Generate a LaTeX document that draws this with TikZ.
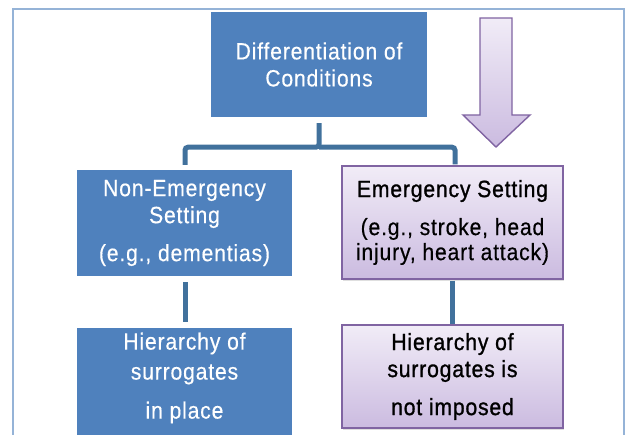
\documentclass[tikz,border=0pt]{standalone}
\usepackage{fontspec}
\setmainfont{Liberation Sans}[FakeStretch=0.9, LetterSpace=3.5, FakeBold=0.4]
\newfontfamily\headfont{Liberation Sans}[FakeStretch=0.9, LetterSpace=3.5, FakeBold=1.1]
\usetikzlibrary{shadows,calc}
\definecolor{boxblue}{HTML}{4F81BD}
\definecolor{linkblue}{HTML}{41719C}
\definecolor{frameblue}{HTML}{95B3D7}
\definecolor{lilacedge}{HTML}{8064A2}
\definecolor{lilactop}{HTML}{F1ECF7}
\definecolor{lilacbot}{HTML}{CBBBE0}
\begin{document}
\begin{tikzpicture}[
    x=1pt, y=-1pt,
    blueblock/.style={rectangle, fill=boxblue, text=white, align=center, inner sep=0pt, font=\fontsize{23.5}{26}\selectfont},
    lilacblock/.style={rectangle, draw=lilacedge, line width=1.2pt, top color=lilactop, bottom color=lilacbot, align=center, inner sep=0pt, font=\fontsize{23.5}{26}\selectfont, drop shadow={opacity=0.25, shadow xshift=1pt, shadow yshift=-2pt}},
    link/.style={draw=linkblue, line width=5pt, rounded corners=3pt}
]
    \useasboundingbox (0,0) rectangle (632,435);
    \clip (0,0) rectangle (632,435);
    \draw [frameblue, line width=1.6pt] (13,9) rectangle (624,460);

    \node [blueblock, minimum width=216pt, minimum height=105pt] (cond) at (319,64.5) {Differentiation of\\[1pt]Conditions};
    \node [blueblock, minimum width=215pt, minimum height=106pt] (nonem) at (184.5,223) {Non-Emergency\\[1pt]Setting\\[12pt](e.g., dementias)};
    \node [lilacblock, minimum width=221pt, minimum height=113pt] (emerg) at (452.5,222.5) {\headfont Emergency Setting\\[12pt](e.g., stroke, head\\[-1pt]injury, heart attack)};
    \node [blueblock, minimum width=215pt, minimum height=100pt] (inplace) at (184.5,378) {Hierarchy of\\[4pt]surrogates\\[13pt]in place};
    \fill [boxblue] (inplace.south west) rectangle ([yshift=-12pt]inplace.south east);
    \node [lilacblock, minimum width=221pt, minimum height=103pt] (notimp) at (452.5,376.5) {\headfont Hierarchy of\\[1pt]\headfont surrogates is\\[12pt]\headfont not imposed};

    % connectors
    \coordinate (split) at ($(cond.south)+(0,30)$);
    \draw [link] ([yshift=-6pt]cond.south) -- (split) -| ([xshift=0.5pt, yshift=5pt]nonem.north);
    \draw [link] (split) -| ([xshift=2.5pt, yshift=1pt]emerg.north);
    \draw [link, shorten <=6pt, shorten >=6pt] ([xshift=0.5pt]nonem.south) -- ([xshift=0.5pt]inplace.north);
    \draw [link, shorten <=1pt] (emerg.south) -- (notimp.north);

    % big arrow
    \shadedraw [top color=lilactop, bottom color=lilacbot, draw=lilacedge, line width=1.4pt, line join=miter]
        (480,18) -- (512,18) -- (512,115) -- (530,115) -- (496,147) -- (463,115) -- (480,115) -- cycle;
\end{tikzpicture}
\end{document}
